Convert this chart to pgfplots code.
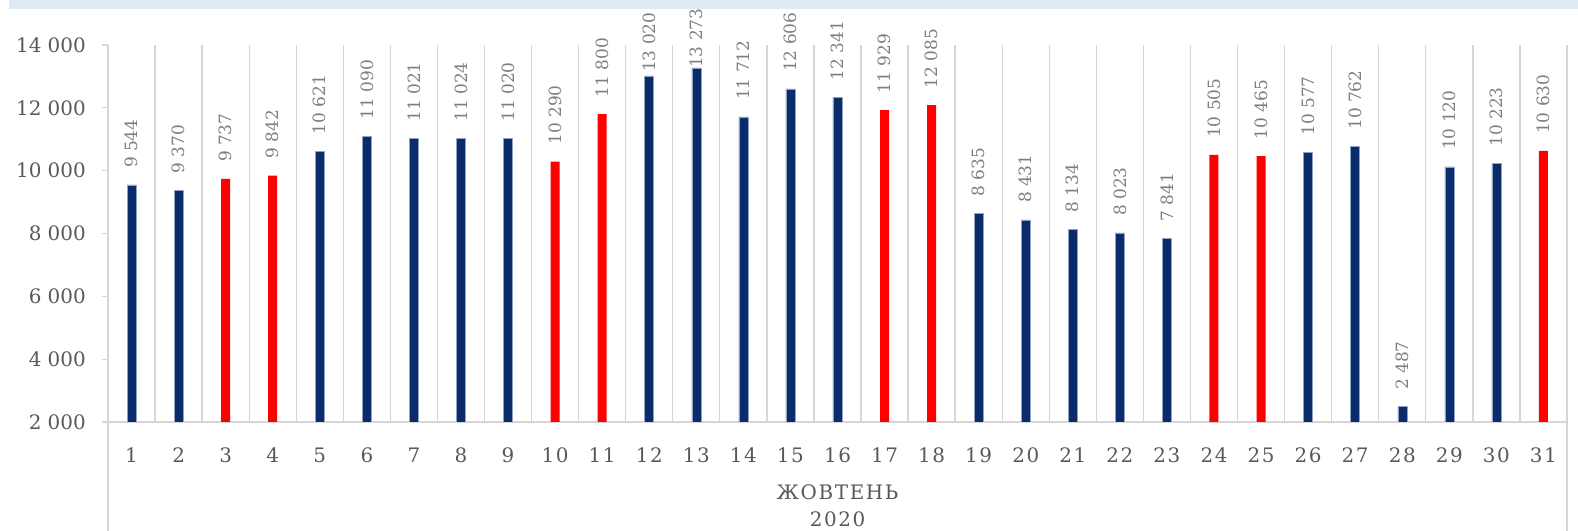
\documentclass[border=0pt]{standalone}
\usepackage{fontspec}
\setmainfont{DejaVu Serif}
\newfontfamily\spacedfont{DejaVu Serif}[LetterSpace=8]
\usepackage{pgfplots}
\pgfplotsset{compat=1.18}
\usepackage{pgfplotstable}
\definecolor{navy}{HTML}{0B2C6B}
\definecolor{navyedge}{HTML}{8FA3C6}
\definecolor{barred}{HTML}{FF0000}
\definecolor{gridgray}{HTML}{D6D6D6}
\definecolor{labelgray}{HTML}{595959}
\definecolor{datagray}{HTML}{7F7F7F}
\definecolor{band}{HTML}{DEEBF7}

\pgfplotstableread{
x y gap
1 9544 17
2 9370 17
5 10621 17
6 11090 17
7 11021 17
8 11024 17
9 11020 17
12 13020 4
13 13273 0
14 11712 17
15 12606 17
16 12341 17
19 8635 17
20 8431 17
21 8134 17
22 8023 17
23 7841 17
26 10577 17
27 10762 17
28 2487 17
29 10120 17
30 10223 17
}\bluedata

\pgfplotstableread{
x y gap
3 9737 17
4 9842 17
10 10290 17
11 11800 17
17 11929 17
18 12085 17
24 10505 17
25 10465 17
31 10630 17
}\reddata

\begin{document}
\begin{tikzpicture}
\useasboundingbox (0,0) rectangle (1578bp,531bp);
\clip (0,0) rectangle (1578bp,531bp);
\fill[band] (9bp,522bp) rectangle (1578bp,531bp);
\begin{axis}[
  at={(108bp,109bp)}, anchor=south west,
  scale only axis, width=1459bp, height=377bp,
  xmin=0.5, xmax=31.5, ymin=2000, ymax=14000,
  xtick={1,...,31}, minor xtick={0.5,1.5,...,31.5},
  ytick={2000,4000,...,14000},
  xminorgrids, minor grid style={draw=gridgray, line width=1.3bp},
  axis x line*=bottom, axis y line*=left,
  axis line style={-, draw=gridgray, line width=1.3bp},
  x axis line style={line width=1.8bp},
  tick align=outside, major tick length=6bp, minor tick length=0pt,
  xtick style={draw=none},
  ytick style={draw=gridgray, line width=1.3bp},
  scaled y ticks=false,
  /pgf/number format/assume math mode=true,
  /pgf/number format/1000 sep={\ },
  yticklabel style={font=\fontsize{20}{24}\selectfont, text=labelgray, anchor=east, inner sep=0pt, xshift=-16bp},
  xticklabel style={font=\spacedfont\fontsize{20}{24}\selectfont, text=labelgray, anchor=base, inner sep=0pt, yshift=-34bp},
  nodes near coords,
  visualization depends on={\thisrow{gap}\as\labgap},
  every node near coord/.style={rotate=90, anchor=west, inner sep=0pt, outer xsep=\labgap bp, font=\fontsize{17}{20}\selectfont, text=datagray},
]
\addplot[ybar, bar shift=0pt, bar width=9bp, fill=navy, draw=navyedge, line width=0.5bp] table[x=x,y=y]{\bluedata};
\addplot[ybar, bar shift=0pt, bar width=9bp, fill=barred, draw=none] table[x=x,y=y]{\reddata};
\end{axis}
\draw[gridgray, line width=1.3bp] (108bp,109bp) -- (108bp,0);
\draw[gridgray, line width=1.3bp] (1567bp,109bp) -- (1567bp,0);
\node[anchor=base, inner sep=0pt, text=labelgray, font=\spacedfont\fontsize{20}{24}\selectfont] at (837.5bp,32bp) {ЖОВТЕНЬ};
\node[anchor=base, inner sep=0pt, text=labelgray, font=\spacedfont\fontsize{20}{24}\selectfont] at (837.5bp,5bp) {2020};
\end{tikzpicture}
\end{document}
